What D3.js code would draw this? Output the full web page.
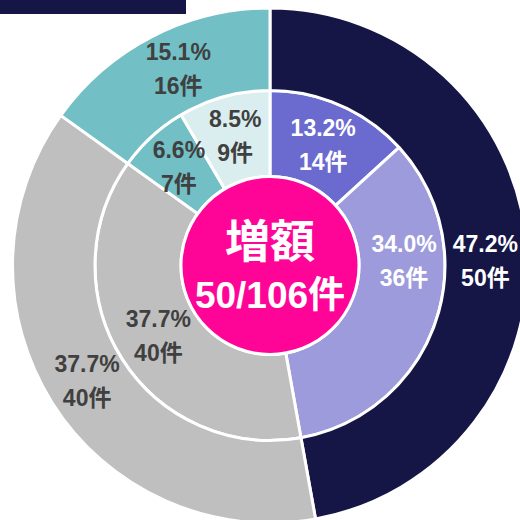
<!DOCTYPE html>
<html>
<head>
<meta charset="utf-8">
<script src="https://cdn.jsdelivr.net/npm/d3@7"></script>
<style>
  body { margin: 0; background: #fff; }
  svg { display: block; }
</style>
</head>
<body>
<svg></svg>
<script>
const width = 520;
const height = 520;

// inner ring, clockwise from 12 o'clock
const innerCounts = [14, 36, 40, 7, 9];
const innerPcts = ['13.2%', '34.0%', '37.7%', '6.6%', '8.5%'];
const innerColors = ['#6b6bcf', '#9e9bdc', '#bfbfbf', '#72bfc5', '#daeef0'];
const innerText = ['#fff', '#fff', '#404040', '#404040', '#404040'];

// outer ring
const outerCounts = [50, 40, 16];
const outerPcts = ['47.2%', '37.7%', '15.1%'];
const outerColors = ['#161646', '#bfbfbf', '#72bfc5'];
const outerText = ['#fff', '#404040', '#404040'];

const centerTitle = '増額';
const centerSub = '50/106件';

const cx = 270, cy = 265.5;
const rHole = 89, rMid = 175, rOuter = 257.5;
const font = '"Liberation Sans", Arial, "Noto Sans CJK JP", sans-serif';

// manual label shifts (Excel-style hand-placed labels)
const innerNudge = [[0, 0], [9, -47], [0, 0], [-2, -2], [0, -3]];
const outerNudge = [[0, 14], [0, 0], [7, -5]];

const svg = d3.select('svg')
    .attr('width', width)
    .attr('height', height);

// cut-off title bar at top left
svg.append('rect')
    .attr('x', 0).attr('y', 0)
    .attr('width', 186).attr('height', 14)
    .attr('fill', '#161646');

const pie = d3.pie().sort(null).value(d => d);
const g = svg.append('g').attr('transform', `translate(${cx},${cy})`);

function ring(counts, colors, textColors, pcts, r0, r1, nudge) {
  const arc = d3.arc().innerRadius(r0).outerRadius(r1);
  const arcs = pie(counts);
  g.append('g').selectAll('path')
    .data(arcs)
    .enter()
    .append('path')
      .attr('d', arc)
      .attr('fill', (d, i) => colors[i])
      .attr('stroke', '#fff')
      .attr('stroke-width', 3);

  const lab = g.append('g').selectAll('text')
    .data(arcs)
    .enter()
    .append('text')
      .attr('transform', (d, i) => {
        const c = arc.centroid(d);
        return `translate(${c[0] + nudge[i][0]},${c[1] + nudge[i][1]})`;
      })
      .attr('text-anchor', 'middle')
      .style('font-family', font)
      .style('font-weight', 'bold')
      .style('font-size', '23px')
      .attr('fill', (d, i) => textColors[i]);
  lab.append('tspan').attr('x', 0).attr('y', -8.5).text((d, i) => pcts[i]);
  lab.append('tspan').attr('x', 0).attr('y', 25.5).text(d => d.data + '件');
}

ring(innerCounts, innerColors, innerText, innerPcts, rHole, rMid, innerNudge);
ring(outerCounts, outerColors, outerText, outerPcts, rMid, rOuter, outerNudge);

g.append('circle')
    .attr('r', rHole)
    .attr('fill', '#ff0597')
    .attr('stroke', '#fff')
    .attr('stroke-width', 3);

g.append('text')
    .attr('y', -8)
    .attr('text-anchor', 'middle')
    .style('font-family', font)
    .style('font-weight', 'bold')
    .style('font-size', '45px')
    .attr('fill', '#fff')
    .text(centerTitle);

g.append('text')
    .attr('y', 42)
    .attr('text-anchor', 'middle')
    .style('font-family', font)
    .style('font-weight', 'bold')
    .style('font-size', '37px')
    .attr('fill', '#fff')
    .text(centerSub);
</script>
</body>
</html>
